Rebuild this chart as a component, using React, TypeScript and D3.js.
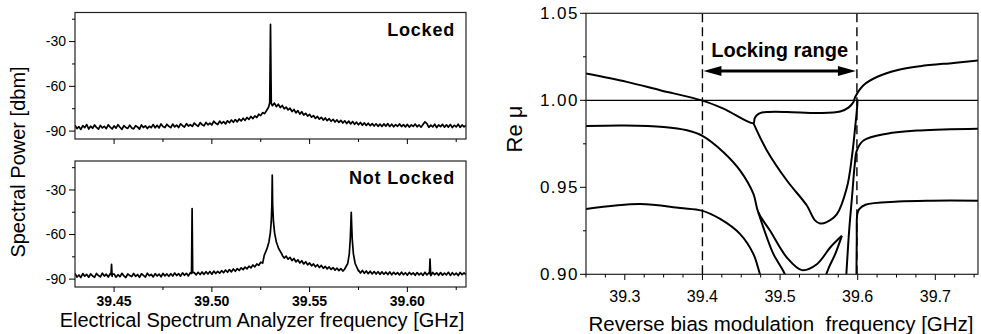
import React from 'react';
import * as d3 from 'd3';

const FONT = "'Liberation Sans', Arial, Helvetica, sans-serif";

// ---------- Left: spectrum analyzer traces ----------
const specStart = 39.43;
const specStep = 0.001;

const lockedBase = [
  -86.0,-88.3,-87.0,-88.9,-86.4,-87.7,-85.6,-88.6,-86.7,-88.1,
  -85.9,-87.5,-88.7,-86.2,-87.9,-86.8,-88.4,-85.8,-87.3,-88.6,
  -86.5,-88.0,-85.7,-87.4,-88.8,-86.3,-87.6,-88.2,-86.0,-87.9,
  -88.5,-86.4,-87.2,-88.7,-85.9,-87.6,-86.5,-88.3,-86.8,-87.7,
  -85.6,-87.8,-86.1,-87.9,-85.2,-86.9,-87.6,-85.4,-86.8,-87.7,
  -85.3,-87.2,-86.0,-87.6,-85.1,-86.4,-87.3,-85.0,-86.6,-85.7,
  -86.9,-84.6,-85.9,-86.8,-84.3,-85.7,-86.5,-84.2,-85.8,-84.7,
  -85.9,-83.4,-84.8,-85.6,-83.3,-84.9,-83.6,-85.2,-83.1,-84.4,
  -82.6,-84.1,-82.3,-83.8,-81.9,-83.2,-81.4,-82.8,-80.9,-82.1,
  -80.2,-81.6,-79.8,-80.9,-78.7,-79.6,-77.6,-78.3,-76.2,-74.0,
  -71.5,-73.0,-71.2,-73.6,-72.0,-74.3,-72.8,-75.1,-73.9,-75.8,
  -74.7,-76.9,-75.5,-77.8,-76.3,-78.6,-77.0,-79.2,-78.1,-79.9,
  -78.8,-80.7,-79.6,-81.5,-80.2,-82.0,-80.8,-82.6,-81.2,-83.0,
  -81.7,-83.4,-82.1,-83.9,-82.5,-84.2,-82.8,-84.6,-83.1,-84.9,
  -83.3,-85.2,-83.6,-85.4,-84.0,-85.8,-84.2,-86.0,-84.5,-86.2,
  -84.7,-86.4,-85.0,-86.6,-85.1,-86.8,-85.3,-86.9,-85.2,-86.7,
  -85.0,-86.9,-85.4,-87.1,-85.6,-86.8,-85.2,-87.0,-85.7,-87.2,
  -85.5,-87.3,-85.8,-86.9,-85.3,-87.1,-85.9,-87.4,-85.6,-83.8,
  -85.0,-87.5,-86.0,-87.2,-85.4,-87.6,-85.9,-87.0,-85.5,-87.4,
  -85.8,-87.3,-85.6,-87.6,-86.1,-87.2,-85.4,-87.5,-85.9,-87.1,-86.2,
];

const lockedPeaks: number[][][] = [
  [[39.5296, -71], [39.5300, -18.5], [39.5304, -71.5]],
];

const unlockedBase = [
  -86.1,-88.6,-87.2,-88.9,-86.3,-88.0,-86.8,-88.7,-86.5,-87.9,
  -88.8,-86.2,-87.6,-88.5,-86.0,-87.9,-86.7,-88.6,-86.4,-88.2,
  -86.6,-88.7,-87.0,-88.4,-86.1,-87.8,-88.9,-86.5,-87.6,-88.3,
  -86.2,-88.1,-86.9,-88.8,-86.4,-87.5,-88.6,-86.0,-87.7,-86.8,
  -88.5,-86.3,-87.9,-86.6,-88.4,-86.2,-87.8,-86.5,-88.1,-86.4,
  -87.9,-85.9,-87.6,-86.3,-88.0,-85.8,-87.4,-86.1,-87.8,-85.7,
  -87.3,-85.6,-87.1,-85.4,-86.9,-85.2,-86.8,-85.0,-86.6,-84.9,
  -86.7,-84.6,-86.2,-84.8,-86.0,-84.3,-85.7,-83.9,-85.4,-83.6,
  -85.1,-83.2,-84.7,-82.9,-84.2,-82.4,-83.6,-81.9,-83.1,-81.3,
  -82.4,-80.5,-81.7,-79.8,-80.6,-78.6,-79.2,-77.0,-76.4,-74.5,
  -70.0,-60.0,-68.0,-70.0,-72.8,-74.9,-73.6,-75.8,-74.5,-76.6,
  -75.4,-77.5,-76.1,-78.4,-77.0,-79.1,-77.6,-79.8,-78.3,-80.4,
  -79.1,-81.0,-79.8,-81.7,-80.3,-82.2,-80.8,-82.7,-81.4,-83.1,
  -81.8,-83.5,-82.2,-84.0,-82.6,-84.3,-82.9,-84.6,-83.2,-84.8,
  -83.4,-85.0,-83.6,-82.0,-81.0,-84.5,-85.9,-84.2,-86.1,-84.5,
  -86.3,-84.7,-86.5,-84.9,-86.6,-85.0,-86.8,-85.1,-86.7,-85.3,
  -86.9,-85.2,-87.1,-85.4,-86.8,-85.6,-87.2,-85.3,-87.0,-85.7,
  -87.3,-85.5,-86.9,-85.8,-87.4,-85.6,-87.1,-85.9,-87.5,-85.4,
  -87.2,-85.7,-87.6,-85.5,-87.0,-85.8,-87.4,-85.6,-87.3,-85.9,
  -87.1,-85.4,-87.5,-85.7,-87.2,-85.9,-87.6,-85.5,-87.0,-85.8,-86.9,
];

const unlockedPeaks: number[][][] = [
  [[39.4484, -87.0], [39.4487, -80.0], [39.4490, -86.6]],
  [[39.4896, -86.2], [39.4899, -42.5], [39.4902, -85.6]],
  [[39.5268, -74.0], [39.5282, -69.5], [39.5292, -65.0], [39.5299, -59.0], [39.5304, -51.0],
   [39.5307, -40.0], [39.5309, -20.0], [39.5311, -40.0], [39.5315, -51.0], [39.5321, -59.0],
   [39.5330, -65.0], [39.5342, -69.5], [39.5360, -74.0]],
  [[39.5680, -83.0], [39.5695, -79.5], [39.5703, -73.0], [39.5708, -63.0], [39.5711, -53.0],
   [39.5713, -45.0], [39.5715, -53.0], [39.5718, -63.0], [39.5724, -73.0], [39.5733, -79.5],
   [39.5750, -84.0]],
  [[39.6113, -86.2], [39.6116, -76.5], [39.6119, -86.0]],
];

const specXTicks = [39.45, 39.5, 39.55, 39.6];
const specXMinor = [39.475, 39.525, 39.575, 39.625];
const specYTicks = [-30, -60, -90];
const specYMinor = [-15, -45, -75];

// ---------- Right: Re mu vs modulation frequency ----------
const reXTicks = [39.3, 39.4, 39.5, 39.6, 39.7];
const reXMinor = [39.25, 39.275, 39.325, 39.35, 39.375, 39.425, 39.45, 39.475, 39.525, 39.55,
  39.575, 39.625, 39.65, 39.675, 39.725, 39.75];
const reYTicks = [0.9, 0.95, 1.0, 1.05];
const reYMinor = [0.925, 0.975, 1.025];
const lockEdges = [39.4, 39.599];

// branch A: top-left curve -> junction -> upper flat branch -> rising right branch
const curveA = [
  [39.25, 1.0154], [39.3026, 1.0106], [39.3455, 1.0058], [39.40, 0.9998], [39.4271, 0.9952],
  [39.4657, 0.9869], [39.4672, 0.9895], [39.4700, 0.9914], [39.4750, 0.9928], [39.4850, 0.9933],
  [39.5088, 0.9933], [39.5517, 0.9927], [39.5775, 0.9936], [39.5881, 0.9958], [39.5946, 0.9990],
  [39.5968, 1.0019], [39.6075, 1.0087], [39.6247, 1.0134], [39.6505, 1.0173], [39.6805, 1.0196],
  [39.7235, 1.0215], [39.7557, 1.0229],
];
// branch A lower: deep V inside the locking range
const curveAV = [
  [39.4657, 0.9869], [39.4830, 0.9712], [39.5088, 0.9539], [39.5345, 0.9395], [39.5450, 0.9310],
  [39.5517, 0.9292], [39.5600, 0.9300], [39.5732, 0.9346], [39.5861, 0.9499], [39.5925, 0.9673],
  [39.5968, 0.9846], [39.5993, 0.9962], [39.5998, 1.0005],
];
// branch B: middle curve -> cusp -> small V loop
const curveB = [
  [39.25, 0.9852], [39.30, 0.9855], [39.35, 0.9847], [39.38, 0.9828], [39.40, 0.9796],
  [39.4271, 0.9702], [39.4486, 0.9596], [39.4657, 0.9462], [39.4720, 0.9356],
  [39.4872, 0.9250], [39.5088, 0.9096], [39.5281, 0.9024], [39.5474, 0.9058], [39.5646, 0.9154],
  [39.5796, 0.9221],
];
const curveB2 = [
  [39.4720, 0.9356], [39.4830, 0.9212], [39.4915, 0.9116], [39.5040, 0.9020], [39.5100, 0.8960],
];
const curveB3 = [
  [39.5570, 0.8970], [39.5630, 0.9040], [39.5710, 0.9116], [39.5796, 0.9221],
];
const curveB4 = [
  [39.5850, 0.8970], [39.5890, 0.9250], [39.5930, 0.9460], [39.5960, 0.9620], [39.5990, 0.9712],
  [39.6075, 0.9769], [39.6376, 0.9808], [39.6805, 0.9827], [39.7557, 0.9837],
];
// branch C: lowest curve
const curveC = [
  [39.25, 0.9375], [39.3197, 0.9404], [39.3713, 0.9381], [39.3992, 0.9366], [39.4228, 0.9318],
  [39.4486, 0.9231], [39.4657, 0.9116], [39.4743, 0.8997], [39.4780, 0.8950],
];
const curveCR = [
  [39.5984, 0.8970], [39.5988, 0.9200], [39.5995, 0.9346], [39.6020, 0.9375], [39.6100, 0.9400],
  [39.6520, 0.9418], [39.6950, 0.9423], [39.7557, 0.9423],
];
const reCurves = [curveA, curveAV, curveB, curveB2, curveB3, curveB4, curveC, curveCR];

function buildTrace(base: number[], peaks: number[][][]) {
  let pts = base.map((v, i) => [specStart + i * specStep, v]);
  peaks.forEach((p) => {
    const lo = p[0][0];
    const hi = p[p.length - 1][0];
    pts = pts.filter((q) => !(q[0] > lo && q[0] < hi));
  });
  peaks.forEach((p) => { pts = pts.concat(p); });
  pts.sort((a, b) => a[0] - b[0]);
  return pts;
}

const W = 981;
const H = 334;

const sx = d3.scaleLinear().domain([39.43, 39.63]).range([75, 466]);
const specDomain = [-95.3, -10.5];
const panels = [
  { top: 12.5, bottom: 139, label: 'Locked', data: buildTrace(lockedBase, lockedPeaks), labels: false },
  { top: 161, bottom: 287, label: 'Not Locked', data: buildTrace(unlockedBase, unlockedPeaks), labels: true },
];

const rx = d3.scaleLinear().domain([39.25, 39.755]).range([586, 978]);
const ry = d3.scaleLinear().domain([0.9, 1.05]).range([274.3, 13.3]);

export default function App() {
  const reLine = d3.line<number[]>().x((d) => rx(d[0])).y((d) => ry(d[1])).curve(d3.curveCatmullRom.alpha(0.5));
  const ax0 = rx(lockEdges[0]);
  const ax1 = rx(lockEdges[1]);
  const arrowY = 71;
  return (
    <svg width={W} height={H} style={{ position: 'absolute', left: 0, top: 0, background: '#fff' }} fontFamily={FONT}>
      <defs>
        {panels.map((p, i) => (
          <clipPath id={`specclip${i}`} key={i}>
            <rect x={75} y={p.top} width={466 - 75} height={p.bottom - p.top} />
          </clipPath>
        ))}
        <clipPath id="reclip">
          <rect x={586} y={13.3} width={978 - 586} height={274.3 - 13.3} />
        </clipPath>
      </defs>

      {/* ---------- left panels ---------- */}
      {panels.map((p, i) => {
        const sy = d3.scaleLinear().domain(specDomain).range([p.bottom, p.top]);
        const line = d3.line<number[]>().x((d) => sx(d[0])).y((d) => sy(d[1]));
        return (
          <g key={i}>
            <path d={line(p.data) || ''} fill="none" stroke="#000" strokeWidth={1.7} strokeLinejoin="round" clipPath={`url(#specclip${i})`} />
            <rect x={75} y={p.top} width={466 - 75} height={p.bottom - p.top} fill="none" stroke="#222" strokeWidth={1.2} />
            {specYTicks.map((t) => (
              <g key={t}>
                <line x1={69} x2={75} y1={sy(t)} y2={sy(t)} stroke="#000" strokeWidth={1} />
                <text x={66} y={sy(t)} dy="0.35em" textAnchor="end" fontSize={14}>{t}</text>
              </g>
            ))}
            {specYMinor.map((t) => (
              <line key={t} x1={72} x2={75} y1={sy(t)} y2={sy(t)} stroke="#000" strokeWidth={1} />
            ))}
            {specXTicks.map((t) => (
              <g key={t}>
                <line x1={sx(t)} x2={sx(t)} y1={p.bottom} y2={p.bottom + 5} stroke="#000" strokeWidth={1} />
                {p.labels && (
                  <text x={sx(t)} y={306} textAnchor="middle" fontSize={14} fontWeight="bold">{t.toFixed(2)}</text>
                )}
              </g>
            ))}
            {specXMinor.map((t) => (
              <line key={t} x1={sx(t)} x2={sx(t)} y1={p.bottom} y2={p.bottom + 3} stroke="#000" strokeWidth={1} />
            ))}
            <text x={455} y={p.top + 23} textAnchor="end" fontSize={18} fontWeight="bold" letterSpacing={0.8}>{p.label}</text>
          </g>
        );
      })}
      <text transform="translate(25,162) rotate(-90)" textAnchor="middle" fontSize={20}>Spectral Power [dbm]</text>
      <text x={262} y={327} textAnchor="middle" fontSize={20}>Electrical Spectrum Analyzer frequency [GHz]</text>

      {/* ---------- right panel ---------- */}
      <g clipPath="url(#reclip)">
        <line x1={586} x2={978} y1={ry(1.0)} y2={ry(1.0)} stroke="#000" strokeWidth={1.3} />
        {reCurves.map((c, i) => (
          <path key={i} d={reLine(c) || ''} fill="none" stroke="#000" strokeWidth={2} strokeLinejoin="round" />
        ))}
        {lockEdges.map((e) => (
          <line key={e} x1={rx(e)} x2={rx(e)} y1={13.3} y2={274.3} stroke="#000" strokeWidth={1.4} strokeDasharray="9,5" />
        ))}
      </g>
      <rect x={586} y={13.3} width={978 - 586} height={274.3 - 13.3} fill="none" stroke="#222" strokeWidth={1.2} />
      {reYTicks.map((t) => (
        <g key={t}>
          <line x1={580} x2={586} y1={ry(t)} y2={ry(t)} stroke="#000" strokeWidth={1} />
          <text x={579} y={ry(t)} dy="0.35em" textAnchor="end" fontSize={17} letterSpacing={1.5}>{t.toFixed(2)}</text>
        </g>
      ))}
      {reYMinor.map((t) => (
        <line key={t} x1={583} x2={586} y1={ry(t)} y2={ry(t)} stroke="#000" strokeWidth={1} />
      ))}
      {reXTicks.map((t) => (
        <g key={t}>
          <line x1={rx(t)} x2={rx(t)} y1={274.3} y2={280} stroke="#000" strokeWidth={1} />
          <text x={rx(t)} y={302} textAnchor="middle" fontSize={16}>{t.toFixed(1)}</text>
        </g>
      ))}
      {reXMinor.map((t) => (
        <line key={t} x1={rx(t)} x2={rx(t)} y1={274.3} y2={277.5} stroke="#000" strokeWidth={1} />
      ))}
      <text transform="translate(522,129) rotate(-90)" textAnchor="middle" fontSize={22}>Re μ</text>
      <text x={781} y={331} textAnchor="middle" fontSize={20.5} style={{ whiteSpace: 'pre' }}>{'Reverse bias modulation  frequency [GHz]'}</text>

      {/* locking range annotation */}
      <text x={(ax0 + ax1) / 2} y={57} textAnchor="middle" fontSize={20} fontWeight="bold">Locking range</text>
      <line x1={ax0 + 14} x2={ax1 - 14} y1={arrowY} y2={arrowY} stroke="#000" strokeWidth={3} />
      <polygon points={`${ax0 + 1},${arrowY} ${ax0 + 19},${arrowY - 5} ${ax0 + 19},${arrowY + 5}`} fill="#000" />
      <polygon points={`${ax1 - 1},${arrowY} ${ax1 - 19},${arrowY - 5} ${ax1 - 19},${arrowY + 5}`} fill="#000" />
    </svg>
  );
}
